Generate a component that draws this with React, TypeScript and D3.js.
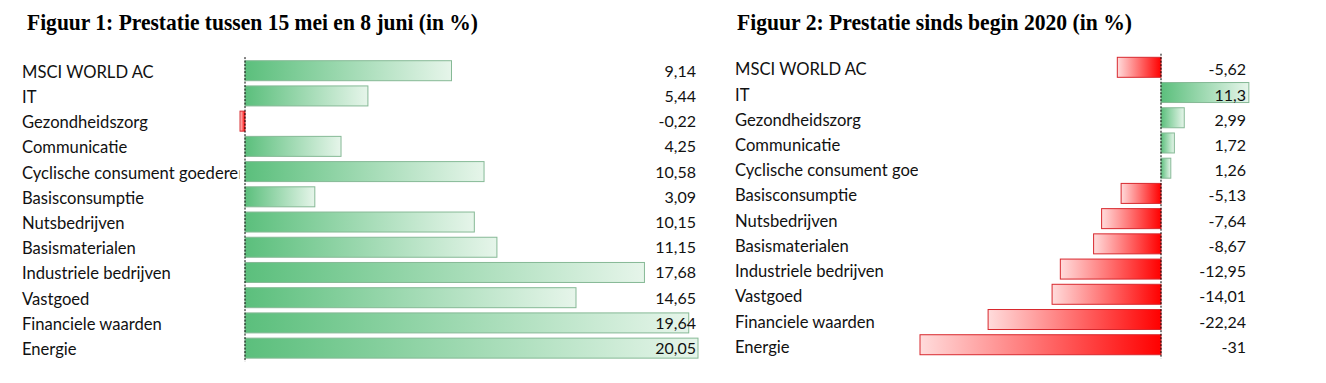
import React from "react";
import * as d3 from "d3";

const categories = [
  "MSCI WORLD AC",
  "IT",
  "Gezondheidszorg",
  "Communicatie",
  "Cyclische consument goederen",
  "Basisconsumptie",
  "Nutsbedrijven",
  "Basismaterialen",
  "Industriele bedrijven",
  "Vastgoed",
  "Financiele waarden",
  "Energie",
];

const perfMayJune = [9.14, 5.44, -0.22, 4.25, 10.58, 3.09, 10.15, 11.15, 17.68, 14.65, 19.64, 20.05];
const perfYtd = [-5.62, 11.3, 2.99, 1.72, 1.26, -5.13, -7.64, -8.67, -12.95, -14.01, -22.24, -31];

const title1 = "Figuur 1: Prestatie tussen 15 mei en 8 juni (in %)";
const title2 = "Figuur 2: Prestatie sinds begin 2020 (in %)";

const fmt = (v: number) => String(v).replace(".", ",");

const LABEL_FONT = "Lato, 'Open Sans', sans-serif";

type PanelProps = {
  id: string;
  title: string;
  titleX: number;
  titleWidth: number;
  labelX: number;
  labelClip: number;
  values: number[];
  domain: [number, number];
  range: [number, number];
  valueX: number;
  rowTop: number;
  labelDy: number;
  valueDy: number;
};

function Panel(p: PanelProps) {
  const x = d3.scaleLinear().domain(p.domain).range(p.range);
  const step = 25.22;
  const y = d3
    .scaleBand<string>()
    .domain(categories)
    .range([p.rowTop, p.rowTop + step * categories.length])
    .padding(0);
  const barH = 20;
  const x0 = x(0);
  return (
    <g>
      <defs>
        <clipPath id={`clip-${p.id}`}>
          <rect x={0} y={0} width={p.labelClip} height={383} />
        </clipPath>
      </defs>
      <text
        x={p.titleX}
        y={30}
        fontFamily="'Liberation Serif', 'Times New Roman', serif"
        fontWeight="bold"
        fontSize={23}
        textLength={p.titleWidth}
        lengthAdjust="spacingAndGlyphs"
        fill="#000"
      >
        {p.title}
      </text>
      <g clipPath={`url(#clip-${p.id})`}>
        {categories.map((c) => (
          <text
            key={c}
            x={p.labelX}
            y={(y(c) as number) + y.bandwidth() / 2 + p.labelDy}
            fontFamily={LABEL_FONT}
            fontSize={16.6}
            fill="#111"
          >
            {c}
          </text>
        ))}
      </g>
      {p.values.map((v, i) => {
        const c = categories[i];
        const cy = (y(c) as number) + y.bandwidth() / 2;
        const xa = Math.min(x(v), x0);
        const w = Math.abs(x(v) - x0);
        return (
          <rect
            key={c}
            x={xa}
            y={cy - barH / 2}
            width={w}
            height={barH}
            fill={v >= 0 ? "url(#gPos)" : "url(#gNeg)"}
            stroke={v >= 0 ? "#86b996" : "#d8282e"}
            strokeWidth={1}
          />
        );
      })}
      <line
        x1={x0}
        x2={x0}
        y1={p.rowTop - 1}
        y2={p.rowTop + step * categories.length + 1}
        stroke="#000"
        strokeWidth={1}
        strokeDasharray="2,1.5"
      />
      {p.values.map((v, i) => {
        const c = categories[i];
        const cy = (y(c) as number) + y.bandwidth() / 2;
        return (
          <text
            key={c}
            x={p.valueX}
            y={cy + p.valueDy}
            textAnchor="end"
            fontFamily={LABEL_FONT}
            fontSize={16}
            fill="#111"
          >
            {fmt(v)}
          </text>
        );
      })}
    </g>
  );
}

export default function App() {
  return (
    <svg
      width={1326}
      height={383}
      style={{ position: "absolute", left: 0, top: 0, background: "#fff" }}
    >
      <defs>
        <linearGradient id="gPos" x1="0" x2="1" y1="0" y2="0">
          <stop offset="0%" stopColor="#5bbf7c" />
          <stop offset="100%" stopColor="#e6f5ea" />
        </linearGradient>
        <linearGradient id="gNeg" x1="0" x2="1" y1="0" y2="0">
          <stop offset="0%" stopColor="#ffdcdc" />
          <stop offset="100%" stopColor="#ff0000" />
        </linearGradient>
      </defs>
      <rect x={0} y={0} width={1326} height={383} fill="#fff" />
      <Panel
        id="p1"
        title={title1}
        titleX={27}
        titleWidth={451}
        labelX={22}
        labelClip={239.5}
        values={perfMayJune}
        domain={[0, 20.05]}
        range={[245, 698]}
        valueX={696}
        rowTop={58.1}
        labelDy={7}
        valueDy={6}
      />
      <Panel
        id="p2"
        title={title2}
        titleX={737}
        titleWidth={395}
        labelX={735}
        labelClip={918}
        values={perfYtd}
        domain={[-31, 0]}
        range={[920, 1161]}
        valueX={1246}
        rowTop={54.7}
        labelDy={8}
        valueDy={8}
      />
    </svg>
  );
}
